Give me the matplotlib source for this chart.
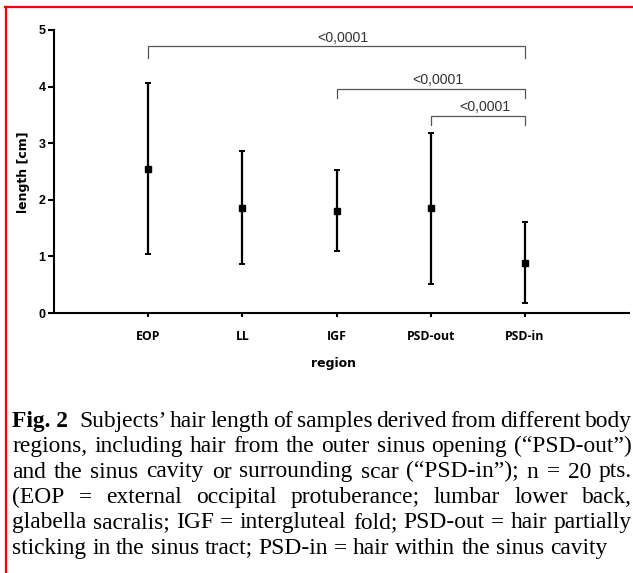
import matplotlib
matplotlib.use("Agg")
import matplotlib.pyplot as plt
from matplotlib.lines import Line2D

# data ##################
regions = ["EOP", "LL", "IGF", "PSD-out", "PSD-in"]
length_mean = [2.55, 1.86, 1.80, 1.85, 0.88]
length_upper = [4.07, 2.86, 2.52, 3.18, 1.60]
length_lower = [1.05, 0.86, 1.09, 0.51, 0.17]

# significance brackets: (from, to), height, p label
comparisons = [("EOP", "PSD-in"), ("IGF", "PSD-in"), ("PSD-out", "PSD-in")]
bracket_y = [4.71, 3.96, 3.48]
p_labels = ["<0,0001", "<0,0001", "<0,0001"]

caption_lines = [
    "Subjects’ hair length of samples derived from different body",
    "regions, including hair from the outer sinus opening (“PSD-out”)",
    "and the sinus cavity or surrounding scar (“PSD-in”); n = 20 pts.",
    "(EOP = external occipital protuberance; lumbar lower back,",
    "glabella sacralis; IGF = intergluteal fold; PSD-out = hair partially",
    "sticking in the sinus tract; PSD-in = hair within the sinus cavity",
]
##########################

W, H = 633, 573
fig = plt.figure(figsize=(W/100, H/100), dpi=100)
fig.patch.set_facecolor("white")

# axes placed in pixel terms
ax_l, ax_r, ax_b, ax_t = 54, 629, 313, 30
ax = fig.add_axes([ax_l/W, 1-ax_b/H, (ax_r-ax_l)/W, (ax_b-ax_t)/H])

xpos = list(range(1, len(regions)+1))
err_lo = [m-lo for m, lo in zip(length_mean, length_lower)]
err_hi = [hi-m for m, hi in zip(length_mean, length_upper)]
ax.errorbar(
    xpos, length_mean,
    yerr=[err_lo, err_hi],
    fmt='s', color='black', ms=4.5,
    ecolor='black', elinewidth=1.6,
    capsize=2.5, capthick=1.4
)

ax.set_xlim(0, (ax_r-ax_l)/94.2)
ax.set_ylim(0, 5)
ax.set_yticks(range(0, 6))
ax.set_xticks(xpos)
ax.set_xticklabels(regions, family=['Open Sans', 'DejaVu Sans'],
                   fontweight='bold', fontsize=8.8)
for lab in ax.get_yticklabels():
    lab.set_family(['Liberation Sans Narrow', 'Liberation Sans'])
    lab.set_fontweight('bold')
    lab.set_fontsize(9)

for s in ['top', 'right']:
    ax.spines[s].set_visible(False)
for s in ['left', 'bottom']:
    ax.spines[s].set_linewidth(1.5)
ax.tick_params(axis='y', length=4, width=1.5, pad=2)
ax.tick_params(axis='x', length=3, width=1.5, pad=9)

# brackets
xmap = {r: x for r, x in zip(regions, xpos)}
drop = [0.2, 0.17, 0.16]
for (a, b), yb, d, lab in zip(comparisons, bracket_y, drop, p_labels):
    x1, x2 = xmap[a], xmap[b]
    ax.plot([x1, x1, x2, x2], [yb-d, yb, yb, yb-d],
            color='#555555', lw=0.9, solid_joinstyle='miter')
    ax.text((x1+x2)/2+0.07, yb+0.03, lab, ha='center', va='bottom',
            family='Liberation Sans', fontsize=10.2, color='#333333')

# axis titles
fig.text(23.5/W, 1-172/H, "length [cm]", rotation=90, ha='center',
         va='center', fontweight='bold', fontsize=9, family='DejaVu Sans')
fig.text(334/W, 1-363/H, "region", ha='center', va='center',
         fontweight='bold', fontsize=9, family='DejaVu Sans')

# red frame
fig.add_artist(Line2D([5/W, 1], [1-7/H, 1-7/H], color='red', lw=1.6,
                      transform=fig.transFigure))
fig.add_artist(Line2D([6/W, 6/W], [1-7/H, 0], color='red', lw=1.6,
                      transform=fig.transFigure))

# caption, justified word by word
fig.canvas.draw()
renderer = fig.canvas.get_renderer()
cap_left, cap_right = 12, 632
base0, pitch = 426.7, 25.4
cap_size = 16.9

def width_of(t):
    return t.get_window_extent(renderer).width

for i, line in enumerate(caption_lines):
    yb = 1-(base0+i*pitch)/H
    texts = []
    if i == 0:
        texts.append(fig.text(0, yb, "Fig. 2", family='Liberation Serif',
                              fontweight='bold', fontsize=cap_size,
                              va='baseline'))
    for w in line.split(" "):
        texts.append(fig.text(0, yb, w, family='Liberation Serif',
                              fontsize=cap_size, va='baseline'))
    widths = [width_of(t) for t in texts]
    if i == 0:
        widths[0] += 7  # wider gap after the figure label
    if i == len(caption_lines)-1:
        gap = cap_size*100/72*0.25
    else:
        gap = (cap_right-cap_left-sum(widths))/(len(texts)-1)
    x = cap_left
    for t, w in zip(texts, widths):
        t.set_x(x/W)
        x += w+gap

fig.savefig("out.png", dpi=100)
